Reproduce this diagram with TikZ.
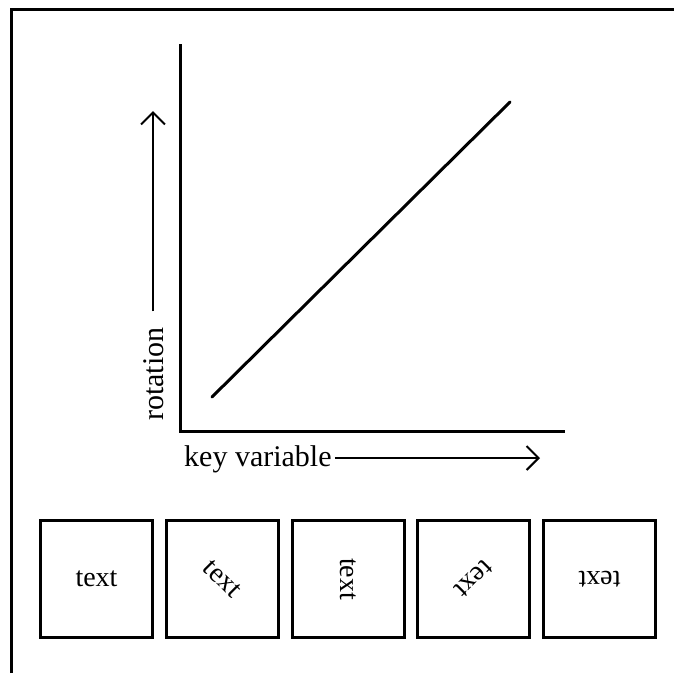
\documentclass[tikz,border=0pt]{standalone}
\usepackage{fontspec}
\setmainfont{Liberation Serif}
\usetikzlibrary{arrows.meta}

\begin{document}
\begin{tikzpicture}[x=1pt,y=-1pt,
    heavy/.style={line width=3pt},
    pointer/.style={line width=2pt,-{Straight Barb[length=12pt,width=24pt,line width=2pt]}},
    label/.style={inner sep=0pt,font=\fontsize{30}{36}\selectfont},
    card/.style={draw,line width=3pt,minimum width=112pt,minimum height=117pt,inner sep=0pt,
        font=\fontsize{28}{34}\selectfont}]
    \useasboundingbox (0,0) rectangle (674,673);
    % frame
    \draw[heavy] (11,673) -- (11,9) -- (674,9);
    % axes
    \coordinate (ytop) at (180,44);
    \coordinate (origin) at (180,431);
    \coordinate (xend) at (565,431);
    \draw[heavy] (ytop) -- (origin) -- (xend);
    \coordinate (lo) at (212,397);
    \coordinate (hi) at (510,102);
    \draw[heavy,line cap=round] (lo) -- (hi);
    % axis labels
    \node[label,anchor=base west] (keyvar) at (184,466) {key variable};
    \coordinate (xtip) at (540,458);
    \draw[pointer,shorten <=3pt] (keyvar.east |- xtip) -- (xtip);
    \node[label,rotate=90,anchor=base west] (rot) at (163,421) {rotation};
    \coordinate (ytip) at (153,111);
    \draw[pointer,shorten <=16pt] (ytip |- rot.east) -- (ytip);
    % rotated samples
    \foreach \i/\a in {1/0,2/-45,3/-90,4/-135,5/180} {
        \node[card] (box\i) at ({96.5+125.75*(\i-1)},579) {\rotatebox{\a}{text}};
    }
\end{tikzpicture}
\end{document}
